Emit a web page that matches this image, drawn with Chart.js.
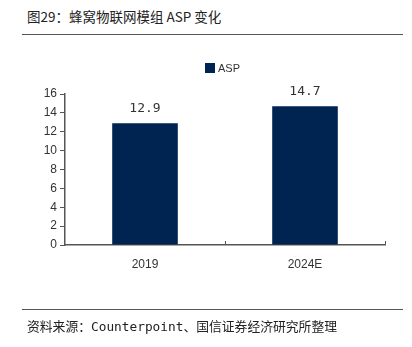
<!DOCTYPE html>
<html>
<head>
<meta charset="utf-8">
<script src="https://cdn.jsdelivr.net/npm/chart.js@4/dist/chart.umd.min.js"></script>
<style>
  html, body { margin: 0; padding: 0; background: #fff; }
  #wrap { position: relative; width: 412px; height: 347px; overflow: hidden; }
  #chart { position: absolute; left: 0; top: 0; }
  .title { position: absolute; left: 27px; top: 6px; font: 13.5px "Noto Sans CJK SC", sans-serif; color: #222; white-space: nowrap; }
  .rule { position: absolute; left: 22px; width: 381px; height: 0; border-top: 1.5px solid #555; }
  .source { position: absolute; left: 27px; top: 316px; font: 12.8px "DejaVu Sans Mono", "Noto Sans CJK SC", monospace; color: #222; white-space: nowrap; }
</style>
</head>
<body>
<div id="wrap">
  <div class="title">图29：蜂窝物联网模组 ASP 变化</div>
  <div class="rule" style="top:34px"></div>
  <canvas id="chart" width="412" height="347"></canvas>
  <div class="rule" style="top:309px"></div>
  <div class="source">资料来源：Counterpoint、国信证券经济研究所整理</div>
</div>
<script>
var years = ["2019", "2024E"];
var aspValues = [12.9, 14.7];
var seriesName = "ASP";
var yMax = 16;
var yStep = 2;

var navy = "#002452";
var axisGrey = "#555555";
var textColor = "#333333";

// legend square + label, and the value over each bar
var extras = {
  id: "extras",
  afterDatasetsDraw: function (chart) {
    var ctx = chart.ctx;
    ctx.save();
    ctx.fillStyle = navy;
    ctx.fillRect(205, 63, 10, 10);
    ctx.fillStyle = textColor;
    ctx.font = "11px 'Liberation Sans', Arial, sans-serif";
    ctx.textBaseline = "middle";
    ctx.textAlign = "left";
    ctx.fillText(chart.data.datasets[0].label, 218, 68.5);

    ctx.font = "13px 'DejaVu Sans Mono', monospace";
    ctx.textAlign = "center";
    ctx.textBaseline = "bottom";
    var meta = chart.getDatasetMeta(0);
    meta.data.forEach(function (bar, i) {
      ctx.fillText(aspValues[i].toFixed(1), bar.x, bar.y - 8);
    });

    // small upward ticks on the x axis at category boundaries
    var xs = chart.scales.x;
    var yb = chart.chartArea.bottom;
    ctx.strokeStyle = axisGrey;
    ctx.lineWidth = 1;
    for (var i = 0; i < years.length; i++) {
      var half = (xs.getPixelForValue(1) - xs.getPixelForValue(0)) / 2;
      var px = Math.round(xs.getPixelForValue(i) + half) + 0.5;
      ctx.beginPath();
      ctx.moveTo(px, yb);
      ctx.lineTo(px, yb - 4);
      ctx.stroke();
    }
    ctx.restore();
  }
};

new Chart(document.getElementById("chart"), {
  type: "bar",
  data: {
    labels: years,
    datasets: [{
      label: seriesName,
      data: aspValues,
      backgroundColor: navy,
      borderWidth: 0,
      barPercentage: 0.82,
      categoryPercentage: 0.5
    }]
  },
  options: {
    responsive: false,
    animation: false,
    devicePixelRatio: 1,
    layout: { padding: { top: 94, right: 27, left: 0, bottom: 0 } },
    plugins: {
      legend: { display: false },
      tooltip: { enabled: false }
    },
    scales: {
      x: {
        offset: true,
        grid: { display: false, drawOnChartArea: false },
        border: { display: true, color: axisGrey, width: 1.5 },
        ticks: {
          color: textColor,
          font: { family: "'Liberation Sans', Arial, sans-serif", size: 12 },
          padding: 4
        },
        afterFit: function (scale) { scale.height = 102; }
      },
      y: {
        min: 0,
        max: yMax,
        grid: {
          drawOnChartArea: false,
          tickLength: 5,
          color: axisGrey,
          tickColor: axisGrey
        },
        border: { display: true, color: axisGrey, width: 1.5 },
        ticks: {
          stepSize: yStep,
          color: textColor,
          font: { family: "'Liberation Sans', Arial, sans-serif", size: 12 },
          padding: 3
        },
        afterFit: function (scale) { scale.width = 65; }
      }
    }
  },
  plugins: [extras]
});
</script>
</body>
</html>
